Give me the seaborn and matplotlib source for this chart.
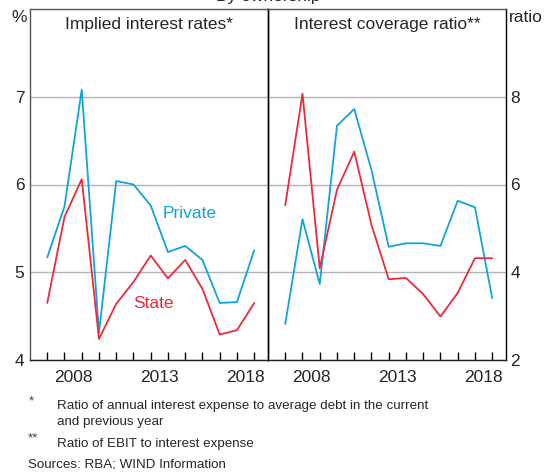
import numpy as np
import pandas as pd
import matplotlib
matplotlib.use("Agg")
import matplotlib.pyplot as plt
import seaborn as sns

# ---- data (annual, end of year) ----
years = list(range(2006, 2019))
rate_private = [5.17, 5.75, 7.08, 4.31, 6.04, 6.00, 5.76, 5.23, 5.30, 5.14, 4.65, 4.66, 5.25]
rate_state = [4.65, 5.63, 6.06, 4.24, 4.64, 4.89, 5.19, 4.93, 5.14, 4.81, 4.29, 4.34, 4.65]
icr_private = [2.82, 5.21, 3.73, 7.34, 7.72, 6.33, 4.58, 4.66, 4.66, 4.60, 5.63, 5.48, 3.41]
icr_state = [5.53, 8.07, 4.09, 5.88, 6.75, 5.08, 3.84, 3.87, 3.50, 2.99, 3.53, 4.32, 4.32]

series_names = ["Private", "State"]
left_ticks = [4, 5, 6, 7]
right_ticks = [2, 4, 6, 8]
x_labels = ["2008", "2013", "2018"]

BLUE = "#12a3dc"
RED = "#ec2a3d"
palette = {"Private": BLUE, "State": RED}

sns.set_theme(style="white")
plt.rcParams["font.family"] = ["Liberation Sans", "DejaVu Sans"]
plt.rcParams["font.size"] = 12.5

def long_df(priv, state):
    xs = [y + 1 for y in years]  # plotted at end of year
    return pd.DataFrame({
        "x": xs + xs,
        "value": list(priv) + list(state),
        "series": ["Private"] * len(xs) + ["State"] * len(xs),
    })

df_rate = long_df(rate_private, rate_state)
df_icr = long_df(icr_private, icr_state)

W, H = 552, 472
fig = plt.figure(figsize=(W / 100, H / 100), dpi=100)
ax1 = fig.add_axes([30 / W, 112 / H, 238 / W, 351 / H])
ax2 = fig.add_axes([268 / W, 112 / H, 238 / W, 351 / H])
ax2.set_facecolor("none")

FS = 12.5
for ax, df in [(ax1, df_rate), (ax2, df_icr)]:
    sns.lineplot(data=df, x="x", y="value", hue="series", palette=palette,
                 hue_order=series_names, linewidth=1.3, ax=ax, legend=False)
    ax.set_xlim(2006.0, 2019.8)
    ax.set_xlabel("")
    ax.set_ylabel("")
    ax.set_xticks(list(range(2007, 2020)))
    ax.set_xticklabels([])
    ax.set_xticks([int(l) + 0.5 for l in x_labels], minor=True)
    ax.set_xticklabels(x_labels, minor=True)
    ax.tick_params(axis="x", which="major", direction="in", length=6, width=1,
                   color="black", bottom=True)
    ax.tick_params(axis="x", which="minor", length=0, pad=7, labelsize=FS)
    ax.tick_params(axis="y", length=0, labelsize=FS)
    ax.yaxis.grid(True, color="#b4b4b4", linewidth=1)
    ax.xaxis.grid(False)
    for s in ax.spines.values():
        s.set_color("#222222")
        s.set_linewidth(1)
        s.set_visible(True)
        s.set_zorder(5)

ax1.set_ylim(4, 8)
ax1.set_yticks(left_ticks)
ax1.set_yticklabels([str(t) for t in left_ticks])
ax1.tick_params(axis="y", pad=4)
ax1.spines["left"].set_color("#555555")
ax1.spines["top"].set_color("#555555")
ax1.spines["right"].set_color("black")

ax2.set_ylim(2, 10)
ax2.set_yticks(right_ticks)
ax2.set_yticklabels([str(t) for t in right_ticks])
ax2.yaxis.tick_right()
ax2.tick_params(axis="y", pad=3, left=False, right=False)
ax2.spines["left"].set_color("black")
ax2.spines["top"].set_color("#555555")
ax2.spines["right"].set_color("black")

# panel titles
ax1.text(0.5, 0.955, "Implied interest rates*", transform=ax1.transAxes,
         ha="center", va="center", fontsize=FS)
ax2.text(0.5, 0.955, "Interest coverage ratio**", transform=ax2.transAxes,
         ha="center", va="center", fontsize=FS)

# series labels
ax1.text(2015.28, 5.67, "Private", color=BLUE, ha="center", va="center", fontsize=FS)
ax1.text(2013.13, 4.64, "State", color=RED, ha="center", va="center", fontsize=FS)

# unit labels
fig.text(19 / W, 1 - 17 / H, "%", ha="center", va="center", fontsize=FS)
fig.text(509 / W, 1 - 17 / H, "ratio", ha="left", va="center", fontsize=FS)

# chart title (cut off at top)
fig.text(268 / W, 1 - (-4) / H, "By ownership", ha="center", va="center", fontsize=FS)

# footnotes
fs = 9.6
fig.text(29 / W, 1 - 401 / H, "*", ha="left", va="center", fontsize=fs, color="#444444")
fig.text(57 / W, 1 - 406.5 / H, "Ratio of annual interest expense to average debt in the current",
         ha="left", va="center", fontsize=fs)
fig.text(57 / W, 1 - 422.5 / H, "and previous year", ha="left", va="center", fontsize=fs)
fig.text(28 / W, 1 - 438 / H, "**", ha="left", va="center", fontsize=fs, color="#444444")
fig.text(57 / W, 1 - 443.5 / H, "Ratio of EBIT to interest expense", ha="left", va="center", fontsize=fs)
fig.text(28 / W, 1 - 464.5 / H, "Sources: RBA; WIND Information", ha="left", va="center", fontsize=fs)

fig.savefig("out.png", dpi=100)
